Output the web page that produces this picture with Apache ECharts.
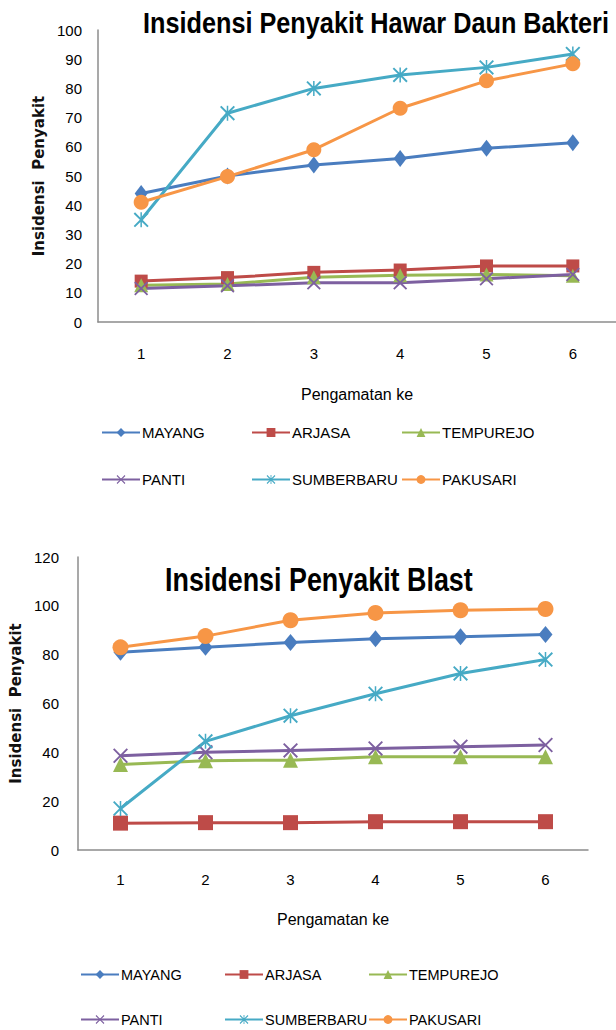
<!DOCTYPE html>
<html>
<head>
<meta charset="utf-8">
<script src="https://cdn.jsdelivr.net/npm/echarts@6/dist/echarts.min.js"></script>
<style>
html,body{margin:0;padding:0;background:#fff;}
#c{width:616px;height:1030px;}
</style>
</head>
<body>
<div id="c"></div>
<script>
var categories = ['1', '2', '3', '4', '5', '6'];
var names = ['MAYANG', 'ARJASA', 'TEMPUREJO', 'PANTI', 'SUMBERBARU', 'PAKUSARI'];
var titleHawar = 'Insidensi Penyakit Hawar Daun Bakteri';
var titleBlast = 'Insidensi Penyakit Blast';
var xAxisName = 'Pengamatan ke';
var yAxisName = 'Insidensi  Penyakit';

// Chart 1: Insidensi Penyakit Hawar Daun Bakteri
var hawarMayang     = [44, 50, 53.8, 56, 59.5, 61.4];
var hawarArjasa     = [14, 15.2, 17, 17.8, 19.2, 19.2];
var hawarTempurejo  = [12.6, 13, 15.3, 16, 16.3, 15.8];
var hawarPanti      = [11.5, 12.4, 13.4, 13.4, 14.8, 16.3];
var hawarSumberbaru = [35, 71.5, 80, 84.6, 87.2, 91.8];
var hawarPakusari   = [41, 49.8, 59, 73.2, 82.6, 88.4];

// Chart 2: Insidensi Penyakit Blast
var blastMayang     = [81, 83, 85, 86.5, 87.3, 88.3];
var blastArjasa     = [11, 11.2, 11.2, 11.6, 11.6, 11.6];
var blastTempurejo  = [35, 36.6, 36.8, 38.2, 38.2, 38.2];
var blastPanti      = [38.6, 40, 40.8, 41.6, 42.3, 43];
var blastSumberbaru = [17, 44.5, 55, 64, 72.3, 78];
var blastPakusari   = [83, 87.6, 94.1, 97.1, 98.2, 98.7];

var colors = ['#4A7DBF', '#BE4B48', '#98B954', '#7D60A0', '#46AAC5', '#F79646'];
var xPath = 'path://M0,0.9L0.9,0L5,4.1L9.1,0L10,0.9L5.9,5L10,9.1L9.1,10L5,5.9L0.9,10L0,9.1L4.1,5Z';
var starPath = 'path://M0,0.9L0.9,0L5,4.1L9.1,0L10,0.9L5.9,5L10,9.1L9.1,10L5,5.9L0.9,10L0,9.1L4.1,5Z M4.5,0L5.5,0L5.5,10L4.5,10Z';
var symbols = ['diamond', 'rect', 'triangle', xPath, starPath, 'circle'];
var symbolSizesTop = [[13, 17], 13, 14, 14, 15, 15];
var symbolSizesBottom = [[14, 17], 15, 15, 15, 15, 16];

var FONT = '"Liberation Sans", Arial, sans-serif';

var hawarData = [hawarMayang, hawarArjasa, hawarTempurejo, hawarPanti, hawarSumberbaru, hawarPakusari];
var blastData = [blastMayang, blastArjasa, blastTempurejo, blastPanti, blastSumberbaru, blastPakusari];

function makeSeries(dataSets, idx, sizes) {
  return dataSets.map(function (d, i) {
    return {
      name: names[i],
      type: 'line',
      xAxisIndex: idx,
      yAxisIndex: idx,
      data: d,
      symbol: symbols[i],
      symbolSize: sizes[i],
      showAllSymbol: true,
      lineStyle: { color: colors[i], width: 3 },
      itemStyle: { color: colors[i] },
      z: i === 5 ? 3 : 2,
      animation: false
    };
  });
}

function makeXAxis(gridIndex, labelMargin, nameGap) {
  return {
    type: 'category',
    gridIndex: gridIndex,
    data: categories,
    boundaryGap: true,
    axisLine: { show: true, lineStyle: { color: '#8c8c8c', width: 1.5 } },
    axisTick: { show: false },
    axisLabel: { color: '#000', fontFamily: FONT, fontSize: 15, margin: labelMargin },
    splitLine: { show: false },
    name: xAxisName,
    nameLocation: 'middle',
    nameGap: nameGap,
    nameTextStyle: { color: '#000', fontFamily: FONT, fontSize: 16 }
  };
}

function makeYAxis(gridIndex, max, interval, labelMargin, nameGap) {
  return {
    type: 'value',
    gridIndex: gridIndex,
    min: 0,
    max: max,
    interval: interval,
    axisLine: { show: true, lineStyle: { color: '#8c8c8c', width: 1.5 } },
    axisTick: { show: false },
    axisLabel: { color: '#000', fontFamily: FONT, fontSize: 15, margin: labelMargin },
    splitLine: { show: false },
    name: yAxisName,
    nameLocation: 'middle',
    nameGap: nameGap,
    nameTextStyle: { color: '#111', fontFamily: '"DejaVu Sans", sans-serif', fontSize: 15, fontWeight: 'bold' }
  };
}

var legendPos = [
  // top chart
  [101, 425], [251, 425], [401, 425], [101, 472], [251, 472], [401, 472],
  // bottom chart
  [80, 967], [224, 967], [368, 967], [80, 1012], [224, 1012], [368, 1012]
];
var legends = legendPos.map(function (p, k) {
  return {
    left: p[0],
    top: p[1],
    padding: 0,
    data: [names[k % 6]],
    itemWidth: 38,
    itemHeight: 11,
    selectedMode: false,
    textStyle: { color: '#000', fontFamily: FONT, fontSize: k < 6 ? 15 : 14.5, padding: [0, 0, 0, -3] }
  };
});

// horizontal condensing of the titles to match the narrow original lettering
function measure(text, font) {
  var ctx = document.createElement('canvas').getContext('2d');
  ctx.font = font;
  return ctx.measureText(text).width;
}
var titleFont1 = 'bold 29px "Liberation Sans", Arial, sans-serif';
var titleFont2 = 'bold 34px "Liberation Sans", Arial, sans-serif';
var sx1 = 466 / measure(titleHawar, titleFont1);
var sx2 = 308 / measure(titleBlast, titleFont2);

var chart = echarts.init(document.getElementById('c'), null, { renderer: 'svg' });
chart.setOption({
  backgroundColor: '#fff',
  animation: false,
  graphic: [
    {
      type: 'text', x: 143, y: 23, scaleX: sx1, z: 100,
      style: { text: titleHawar, font: titleFont1, fill: '#000', verticalAlign: 'middle', align: 'left' }
    },
    {
      type: 'text', x: 165, y: 579, scaleX: sx2, z: 100,
      style: { text: titleBlast, font: titleFont2, fill: '#000', verticalAlign: 'middle', align: 'left' }
    }
  ],
  legend: legends,
  grid: [
    { left: 98, top: 30, width: 528, height: 292 },
    { left: 78, top: 557, width: 510, height: 293 }
  ],
  xAxis: [makeXAxis(0, 24, 64), makeXAxis(1, 22, 61)],
  yAxis: [makeYAxis(0, 100, 10, 16, 52), makeYAxis(1, 120, 20, 19, 51)],
  series: makeSeries(hawarData, 0, symbolSizesTop).concat(makeSeries(blastData, 1, symbolSizesBottom))
});
</script>
</body>
</html>
